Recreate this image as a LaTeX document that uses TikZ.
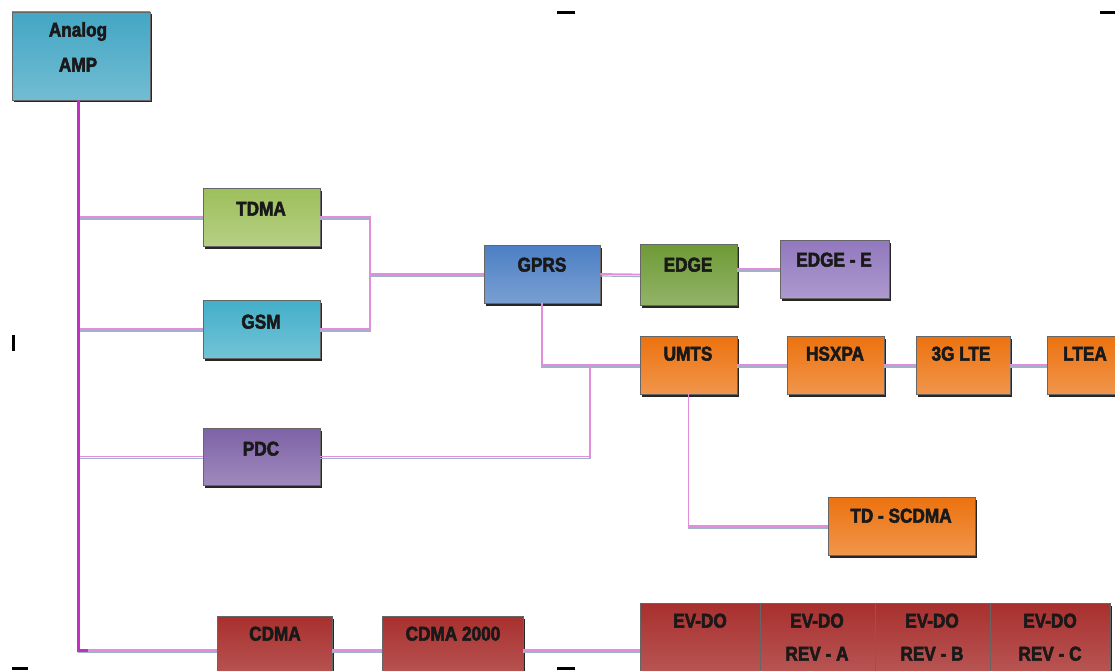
\documentclass[tikz,border=0pt]{standalone}
\usepackage{fontspec}
\setmainfont{Liberation Sans}[FakeBold=2.6, FakeStretch=0.86]
\usetikzlibrary{shadows}
\definecolor{cAmp}{HTML}{43A6C4}
\definecolor{cTdma}{HTML}{9DBF5B}
\definecolor{cGsm}{HTML}{43AFC9}
\definecolor{cPdc}{HTML}{7E62A6}
\definecolor{cGprs}{HTML}{4C7FC4}
\definecolor{cEdge}{HTML}{6E9A36}
\definecolor{cEdgeE}{HTML}{9178BE}
\definecolor{cOr}{HTML}{EC720F}
\definecolor{cRed}{HTML}{A8302E}
\definecolor{cMag}{HTML}{C230C2}
\definecolor{cPink}{HTML}{E58DDD}
\definecolor{cShade}{HTML}{9FB3C8}
\tikzset{
  box/.style={rectangle, inner sep=0pt, draw=black!60, line width=0.5pt,
    top color=#1, bottom color=#1!75!white,
    drop shadow={shadow xshift=1.5pt, shadow yshift=-2.5pt, fill=black, opacity=0.85}},
  lbl/.style={inner sep=0pt, text height=0.72em, text depth=0pt, font=\bfseries\fontsize{20}{22}\selectfont, text=black!90},
  trunkline/.style={draw=cMag, line width=3pt},
  conn/.style={draw=cPink, line width=1.8pt,
    preaction={draw=cShade, line width=1.2pt, transform canvas={yshift=-2pt}}},
  tick/.style={draw=black, line width=3pt}
}
\begin{document}
\begin{tikzpicture}[x=1pt,y=-1pt]
\fill[white] (0,0) rectangle (1115,671);
\clip (0,0) rectangle (1115,671);
% boxes
\node[box=cAmp, minimum width=138, minimum height=88] (amp) at (81,56) {};
\node[box=cTdma, minimum width=117, minimum height=58] (tdma) at (261.5,217) {};
\node[box=cGsm, minimum width=117, minimum height=58] (gsm) at (261.5,329) {};
\node[box=cPdc, minimum width=117, minimum height=57] (pdc) at (261.5,456.5) {};
\node[box=cGprs, minimum width=116, minimum height=58] (gprs) at (542,274) {};
\node[box=cEdge, minimum width=97, minimum height=61] (edge) at (688.5,274.5) {};
\node[box=cEdgeE, minimum width=109, minimum height=58] (edgee) at (834.5,269) {};
\node[box=cOr, minimum width=97, minimum height=58] (umts) at (688.5,365) {};
\node[box=cOr, minimum width=97, minimum height=58] (hsxpa) at (835.5,365) {};
\node[box=cOr, minimum width=94, minimum height=58] (lte) at (963,365) {};
\node[box=cOr, minimum width=80, minimum height=58] (ltea) at (1087,365) {};
\node[box=cOr, minimum width=147, minimum height=58] (tdscdma) at (901.5,526) {};
\node[box=cRed, minimum width=115, minimum height=84] (cdma) at (274.5,658) {};
\node[box=cRed, minimum width=141, minimum height=84] (cdmatwo) at (452.5,658) {};
\node[box=cRed, minimum width=120, minimum height=97] (evA) at (700,651.5) {};
\node[box=cRed, minimum width=115, minimum height=97] (evB) at (817.5,651.5) {};
\node[box=cRed, minimum width=115, minimum height=97] (evC) at (932.5,651.5) {};
\node[box=cRed, minimum width=120, minimum height=97] (evD) at (1050,651.5) {};
% labels
\node[lbl] (ampT1) at (78,33) {Analog};
\node[lbl] (ampT2) at (78,68) {AMP};
\node[lbl] (tdmaT) at (261,212) {TDMA};
\node[lbl] (gsmT) at (261,325) {GSM};
\node[lbl] (pdcT) at (261,452) {PDC};
\node[lbl] (gprsT) at (542,268) {GPRS};
\node[lbl] (edgeT) at (688,268) {EDGE};
\node[lbl] (edgeeT) at (834,263) {EDGE - E};
\node[lbl] (umtsT) at (688,357) {UMTS};
\node[lbl] (hsxpaT) at (835,357) {HSXPA};
\node[lbl] (lteT) at (961,357) {3G LTE};
\node[lbl] (lteaT) at (1085,357) {LTEA};
\node[lbl] (tdscdmaT) at (901,519) {TD - SCDMA};
\node[lbl] (cdmaT) at (275,637) {CDMA};
\node[lbl] (cdmatwoT) at (453,637) {CDMA 2000};
\node[lbl] (evAT) at (700,624) {EV-DO};
\node[lbl] (evBT1) at (817,624) {EV-DO};
\node[lbl] (evBT2) at (817,657) {REV - A};
\node[lbl] (evCT1) at (932,624) {EV-DO};
\node[lbl] (evCT2) at (932,657) {REV - B};
\node[lbl] (evDT1) at (1050,624) {EV-DO};
\node[lbl] (evDT2) at (1050,657) {REV - C};
% junction coordinates
\coordinate (trunk) at (78,650);
\coordinate (jA) at (370,274);
\coordinate (jB) at (590,365);
% connectors
\draw[conn] (trunk |- tdma.west) -- (tdma.west);
\draw[conn] (trunk |- gsm.west) -- (gsm.west);
\draw[conn] (trunk |- pdc.west) -- (pdc.west);
\draw[conn] (trunk) -- (cdma.west |- trunk);
\draw[trunkline] (amp.south -| trunk) -- (trunk) -- ++(10,0);
\draw[conn] (tdma.east) -- (tdma.east -| jA) -- (gsm.east -| jA) -- (gsm.east);
\draw[conn] (jA) -- (gprs.west);
\draw[conn] (gprs.south) -- (gprs.south |- umts.west) -- (umts.west);
\draw[conn] (pdc.east) -- (pdc.east -| jB) -- (jB);
\draw[conn] (gprs.east) -- (edge.west);
\draw[conn] (edge.east |- edgee.west) -- (edgee.west);
\draw[conn] (umts.east) -- (hsxpa.west);
\draw[conn] (hsxpa.east) -- (lte.west);
\draw[conn] (lte.east) -- (ltea.west);
\draw[conn] (umts.south) -- (umts.south |- tdscdma.west) -- (tdscdma.west);
\draw[conn] (cdma.east |- trunk) -- (cdmatwo.west |- trunk);
\draw[conn] (cdmatwo.east |- trunk) -- (evA.west |- trunk);
% handle marks
\draw[tick] (557,13) -- (575,13);
\draw[tick] (1100,13) -- (1115,13);
\draw[tick] (13,335) -- (13,351);
\draw[tick] (12,668) -- (28,668);
\draw[tick] (557,668) -- (575,668);
\end{tikzpicture}
\end{document}
